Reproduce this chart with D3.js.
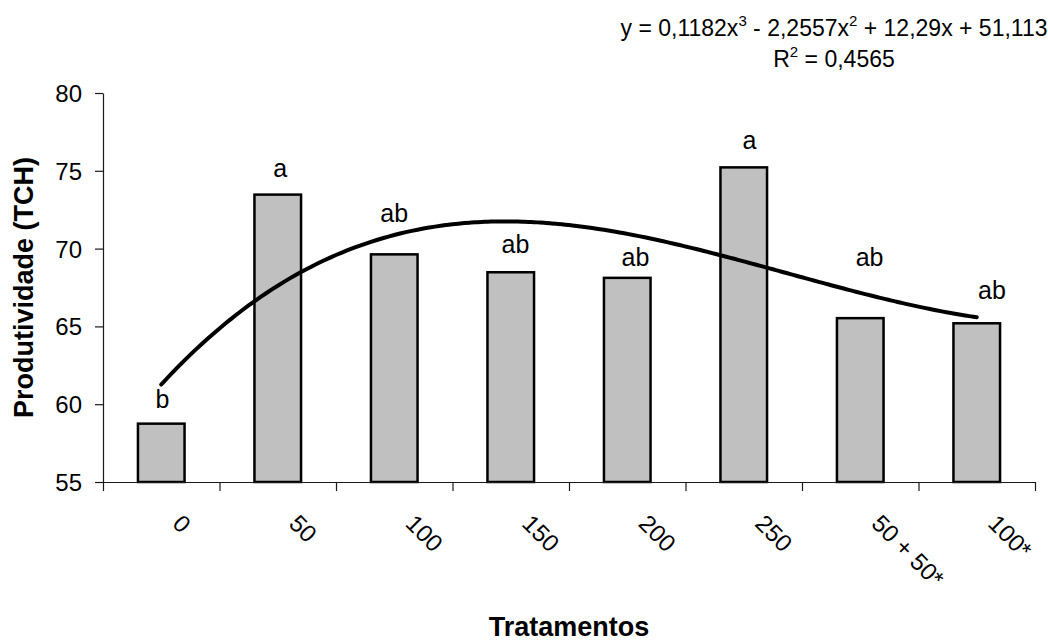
<!DOCTYPE html>
<html>
<head>
<meta charset="utf-8">
<script src="https://cdn.jsdelivr.net/npm/d3@7"></script>
<style>
  body { margin: 0; background: #fff; }
  text { font-family: "Liberation Sans", Arial, sans-serif; fill: #000; }
</style>
</head>
<body>
<div id="chart"></div>
<script>
// data
var categories = ["0", "50", "100", "150", "200", "250", "50 + 50*", "100*"];
var tch = [58.75, 73.47, 69.63, 68.48, 68.12, 75.22, 65.53, 65.2];
var letters = ["b", "a", "ab", "ab", "ab", "a", "ab", "ab"];
// where the letters sit, in chart units (treatment index, TCH)
var letterAtX = [1.01, 2.02, 3.0, 4.04, 5.07, 6.05, 7.08, 8.13];
var letterAtY = [59.73, 74.58, 71.69, 69.7, 68.86, 76.4, 68.86, 66.77];
var yTicks = [55, 60, 65, 70, 75, 80];
// printed trendline: 0,1182x^3 - 2,2557x^2 + 12,29x + 51,113
var trendCoef = [0.1182, -2.2557, 12.29, 51.113];

function drawChart() {
  var width = 1048, height = 644;
  var pl = 103, pr = 1035, pt = 93, pb = 482;

  var svg = d3.select("#chart")
    .append("svg")
    .attr("width", width)
    .attr("height", height);

  var x = d3.scaleBand()
    .domain(categories)
    .range([pl, pr])
    .paddingInner(0.6)
    .paddingOuter(0.3);

  // same x range as a number line, treatment i centred at i
  var xi = d3.scaleLinear().domain([0.5, 8.5]).range([pl, pr]);
  var y = d3.scaleLinear().domain([55, 80]).range([pb, pt]);

  // bars
  svg.selectAll(".bar")
    .data(tch)
    .enter()
    .append("rect")
    .attr("class", "bar")
    .attr("x", function(d, i) { return x(categories[i]); })
    .attr("y", function(d) { return y(d); })
    .attr("width", x.bandwidth())
    .attr("height", function(d) { return pb - y(d); })
    .attr("fill", "#c0c0c0")
    .attr("stroke", "#000")
    .attr("stroke-width", 2.5);

  // y axis
  var yAxis = svg.append("g")
    .attr("transform", "translate(" + pl + ",0)")
    .call(d3.axisLeft(y).tickValues(yTicks).tickSize(8).tickPadding(13).tickSizeOuter(0));
  yAxis.selectAll("text")
    .style("font-size", "24px")
    .attr("dy", "0.35em");

  // x axis, ticks between treatments
  svg.append("g")
    .attr("transform", "translate(0," + pb + ")")
    .call(d3.axisBottom(xi).tickValues(d3.range(0.5, 9, 1)).tickSize(9).tickSizeOuter(0).tickFormat(""));

  svg.selectAll(".domain, .tick line").attr("stroke", "#1a1a1a").attr("stroke-width", 1.2);

  // slanted category labels
  svg.selectAll(".xlab")
    .data(categories)
    .enter()
    .append("text")
    .attr("class", "xlab")
    .attr("transform", function(d) {
      return "translate(" + (x(d) + x.bandwidth() / 2 + 10) + "," + 525 + ") rotate(45)";
    })
    .style("font-size", "24px")
    .text(function(d) { return d; });

  // trendline
  var pts = d3.range(1, 8.001, 0.05).map(function(t) {
    var v = trendCoef[0] * t * t * t + trendCoef[1] * t * t + trendCoef[2] * t + trendCoef[3];
    return [t, v];
  });
  svg.append("path")
    .datum(pts)
    .attr("fill", "none")
    .attr("stroke", "#000")
    .attr("stroke-width", 4)
    .attr("stroke-linecap", "round")
    .attr("d", d3.line()
      .x(function(d) { return xi(d[0]); })
      .y(function(d) { return y(d[1]); })
      .curve(d3.curveCatmullRom));

  // letters over bars
  svg.selectAll(".letter")
    .data(letters)
    .enter()
    .append("text")
    .attr("class", "letter")
    .attr("x", function(d, i) { return xi(letterAtX[i]); })
    .attr("y", function(d, i) { return y(letterAtY[i]); })
    .attr("text-anchor", "middle")
    .style("font-size", "25px")
    .text(function(d) { return d; });

  // axis titles
  svg.append("text")
    .attr("transform", "translate(33," + ((pt + pb) / 2) + ") rotate(-90)")
    .attr("text-anchor", "middle")
    .style("font-size", "27px")
    .style("font-weight", "bold")
    .text("Produtividade (TCH)");

  svg.append("text")
    .attr("x", (pl + pr) / 2)
    .attr("y", 636)
    .attr("text-anchor", "middle")
    .style("font-size", "27px")
    .style("font-weight", "bold")
    .text("Tratamentos");

  // equation
  var eq = svg.append("text")
    .attr("x", 834)
    .attr("y", 36)
    .attr("text-anchor", "middle")
    .style("font-size", "23px");
  eq.append("tspan").text("y = 0,1182x");
  eq.append("tspan").attr("dy", -10).style("font-size", "15px").text("3");
  eq.append("tspan").attr("dy", 10).text(" - 2,2557x");
  eq.append("tspan").attr("dy", -10).style("font-size", "15px").text("2");
  eq.append("tspan").attr("dy", 10).text(" + 12,29x + 51,113");

  var r2 = svg.append("text")
    .attr("x", 834)
    .attr("y", 67)
    .attr("text-anchor", "middle")
    .style("font-size", "23px");
  r2.append("tspan").text("R");
  r2.append("tspan").attr("dy", -10).style("font-size", "15px").text("2");
  r2.append("tspan").attr("dy", 10).text(" = 0,4565");
}

drawChart();
</script>
</body>
</html>
